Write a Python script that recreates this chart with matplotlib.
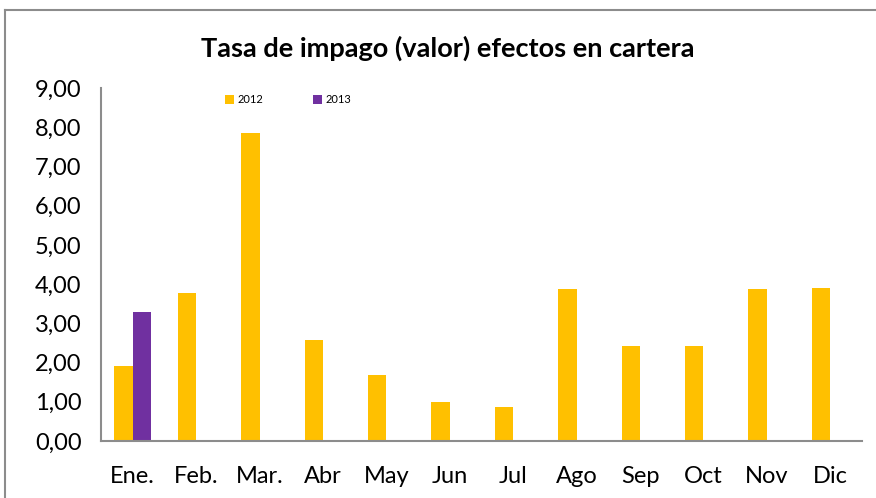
import numpy as np
import matplotlib.pyplot as plt
from matplotlib.lines import Line2D

plt.rcParams['font.family'] = ['Lato', 'DejaVu Sans']

meses = ['Ene.', 'Feb.', 'Mar.', 'Abr', 'May', 'Jun', 'Jul', 'Ago', 'Sep', 'Oct', 'Nov', 'Dic']
v2012 = [1.91, 3.78, 7.86, 2.58, 1.68, 0.99, 0.87, 3.88, 2.42, 2.42, 3.88, 3.90]
v2013 = [3.29, 0, 0, 0, 0, 0, 0, 0, 0, 0, 0, 0]
ticks = [0, 1, 2, 3, 4, 5, 6, 7, 8, 9]

fig = plt.figure(figsize=(8.76, 4.98), dpi=100)
# marco exterior (solo arriba e izquierda visibles)
fx, fy = 5 / 876, 1 - 10 / 498
fig.add_artist(Line2D([fx, 1.0], [fy, fy], transform=fig.transFigure, color='#8c8c8c', lw=1.5))
fig.add_artist(Line2D([fx, fx], [0, fy], transform=fig.transFigure, color='#8c8c8c', lw=1.5))

ax = fig.add_axes([101 / 876, 57 / 498, 761 / 876, 353 / 498])
x = np.arange(len(meses))
w = 0.29
ax.bar(x - w / 2, v2012, w, color='#FFC000', label='2012')
ax.bar(x + w / 2, v2013, w, color='#7030A0', label='2013')

ax.set_xlim(-0.5, len(meses) - 0.5)
ax.set_ylim(0, 9)
ax.set_yticks(ticks)
ax.set_yticklabels([f'{t:.2f}'.replace('.', ',') for t in ticks], fontsize=17)
ax.set_xticks(x)
ax.set_xticklabels(meses, fontsize=17)
ax.tick_params(axis='y', length=0, pad=14)
ax.tick_params(axis='x', length=0, pad=18)
for s in ['top', 'right']:
    ax.spines[s].set_visible(False)
for s in ['left', 'bottom']:
    ax.spines[s].set_color('#8c8c8c')
    ax.spines[s].set_linewidth(1.5)

ax.legend(loc='upper left', bbox_to_anchor=(0.15, 1.01), ncol=2, frameon=False,
          fontsize=8, handlelength=0.8, handleheight=0.8, handletextpad=0.3,
          columnspacing=4.5)

fig.text(448 / 876, 1 - 48 / 498, 'Tasa de impago (valor) efectos en cartera',
         ha='center', va='center', fontsize=19.5, fontweight='bold')

fig.savefig('out.png', dpi=100)
